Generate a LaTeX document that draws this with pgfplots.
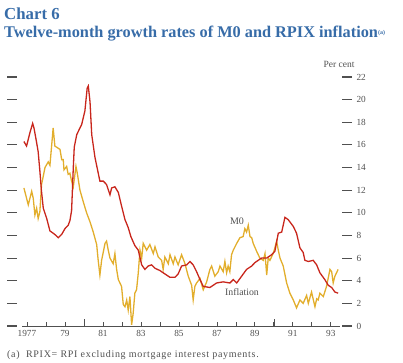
\documentclass[border=0pt]{standalone}
\usepackage{pgfplots}
\pgfplotsset{compat=1.18}
\usepackage{fontspec}
\setmainfont{Liberation Serif}
\definecolor{titleblue}{RGB}{55,108,168}
\definecolor{infred}{RGB}{200,38,28}
\definecolor{mzero}{RGB}{226,174,44}
\definecolor{tickgray}{RGB}{80,80,80}
\begin{document}
\begin{tikzpicture}[x=1bp,y=1bp]
\path[use as bounding box] (0,0) rectangle (403,363);
\node[anchor=base west, inner sep=0, text=titleblue, font=\fontsize{16.8bp}{18bp}\selectfont\bfseries] at (4,344) {Chart 6};
\node[anchor=base west, inner sep=0, text=titleblue, font=\fontsize{16.3bp}{17bp}\selectfont\bfseries] at (4,326) {Twelve-month growth rates of M0 and RPIX inflation{\fontsize{6bp}{7bp}\selectfont\raisebox{3bp}{(a)}}};
% y ticks on both sides
\begin{axis}[
  at={(7bp,37bp)}, anchor=south west,
  width=345bp, height=249bp, scale only axis,
  xmin=1975.95, xmax=1994.11, ymin=0, ymax=22,
  axis line style={draw=none},
  tick align=inside,
  xtick=\empty,
  ytick={0,2,...,22},
  yticklabel pos=right,
  ytick pos=both,
  y tick style={tickgray, line width=1.1bp},
  major tick length=10bp,
  tick label style={font=\fontsize{9.3bp}{10bp}\selectfont, text=tickgray},
  /pgf/number format/assume math mode=true,
  yticklabel style={anchor=west, xshift=1bp},
]
\end{axis}
\begin{axis}[
  at={(7bp,37bp)}, anchor=south west,
  width=345bp, height=249bp, scale only axis,
  xmin=1975.95, xmax=1994.11, ymin=0, ymax=22,
  clip=false,
  axis line style={draw=none},
  tick align=inside,
  xtick pos=bottom,
  ytick=\empty,
  major tick length=4bp,
  xtick={1977,...,1993},
  xticklabels={1977,,79,,81,,83,,85,,87,,89,,91,,93},
  x tick style={tickgray, line width=0.8bp},
  extra x ticks={1980,1990},
  extra x tick labels={},
  extra x tick style={major tick length=7bp},
  tick label style={font=\fontsize{9.3bp}{10bp}\selectfont, text=tickgray},
  /pgf/number format/assume math mode=true,
  xticklabel style={yshift=-1bp},
]
\draw[tickgray, line width=1bp] (axis cs:1976.74,0) -- (axis cs:1993.47,0);
\addplot[mzero, line width=1.3bp] coordinates {
(1976.84,12.2) (1977.07,10.7) (1977.25,11.9) (1977.33,11.3) (1977.42,9.8) (1977.51,10.4)
(1977.59,9.5) (1977.68,10.1) (1977.77,12.5) (1977.95,14.0) (1978.12,14.5) (1978.21,14.2)
(1978.38,17.5) (1978.47,15.9) (1978.65,15.7) (1978.74,15.6) (1978.83,14.7) (1978.91,14.7)
(1978.95,13.8) (1979.09,14.1) (1979.17,13.4) (1979.26,13.5) (1979.35,12.8) (1979.44,12.3)
(1979.58,14.1) (1979.65,13.5) (1979.79,12.0) (1979.96,11.0) (1980.14,10.0) (1980.32,9.2)
(1980.49,8.3) (1980.67,7.2) (1980.75,5.8) (1980.84,4.5) (1980.93,5.8) (1981.11,7.3)
(1981.19,7.5) (1981.28,6.7) (1981.37,6.0) (1981.54,5.5) (1981.63,6.4) (1981.72,5.0)
(1981.81,4.1) (1981.98,3.5) (1982.07,1.9) (1982.16,1.7) (1982.25,2.3) (1982.33,1.4)
(1982.42,2.6) (1982.51,0.1) (1982.59,1.1) (1982.68,2.9) (1982.77,3.2) (1982.86,4.7)
(1982.95,6.7) (1983.04,6.0) (1983.12,7.3) (1983.30,6.7) (1983.47,7.2) (1983.65,6.4)
(1983.74,7.0) (1983.91,6.1) (1984.09,5.8) (1984.17,5.0) (1984.26,6.1) (1984.44,5.5)
(1984.53,6.3) (1984.70,5.5) (1984.79,6.1) (1984.96,5.4) (1985.14,6.3) (1985.32,5.5)
(1985.49,4.4) (1985.67,3.6) (1985.75,2.3) (1985.84,3.5) (1985.93,3.8) (1986.11,4.2)
(1986.28,3.2) (1986.46,3.9) (1986.63,5.0) (1986.72,5.3) (1986.89,4.4) (1987.07,4.8)
(1987.16,5.3) (1987.33,4.8) (1987.42,5.7) (1987.51,4.7) (1987.59,5.3) (1987.68,4.8)
(1987.77,6.3) (1987.86,6.7) (1988.04,7.3) (1988.21,7.8) (1988.38,7.9) (1988.47,8.6)
(1988.56,8.3) (1988.65,8.9) (1988.74,7.9) (1988.83,7.8) (1988.91,7.3) (1989.09,6.6)
(1989.26,6.0) (1989.44,5.8) (1989.53,6.4) (1989.62,4.5) (1989.70,6.0) (1989.79,5.8)
(1989.96,6.4) (1990.05,6.9) (1990.14,7.5) (1990.23,6.7) (1990.32,6.0) (1990.49,5.3)
(1990.67,3.8) (1990.84,2.9) (1991.02,2.3) (1991.19,1.6) (1991.37,2.3) (1991.54,2.0)
(1991.72,2.7) (1991.81,2.0) (1991.98,3.0) (1992.16,1.7) (1992.25,2.4) (1992.33,2.3)
(1992.42,2.9) (1992.60,2.6) (1992.77,3.5) (1992.95,5.0) (1993.04,4.8) (1993.12,3.8)
(1993.21,4.4) (1993.38,5.0)
};
\addplot[infred, line width=1.3bp] coordinates {
(1976.84,16.3) (1976.98,15.9) (1977.16,17.1) (1977.30,17.9) (1977.37,17.5) (1977.51,16.2)
(1977.59,15.4) (1977.68,13.7) (1977.76,12.0) (1977.86,10.4) (1978.04,9.5) (1978.21,8.4)
(1978.38,8.2) (1978.53,8.0) (1978.65,7.8) (1978.83,8.1) (1979.00,8.6) (1979.17,8.9)
(1979.26,9.3) (1979.35,10.2) (1979.44,14.0) (1979.49,15.8) (1979.62,16.9) (1979.79,17.5)
(1979.88,17.8) (1980.05,19.0) (1980.17,21.0) (1980.23,21.2) (1980.32,19.8) (1980.41,16.9)
(1980.58,14.9) (1980.84,12.8) (1981.02,12.8) (1981.19,12.5) (1981.37,11.6) (1981.46,12.2)
(1981.63,12.3) (1981.81,11.8) (1981.98,10.6) (1982.16,9.4) (1982.33,8.7) (1982.47,7.9)
(1982.68,7.1) (1982.86,6.7) (1983.04,5.4) (1983.21,5.0) (1983.38,5.3) (1983.56,5.4)
(1983.74,5.1) (1984.00,4.9) (1984.17,4.7) (1984.35,4.5) (1984.53,4.3) (1984.79,4.3)
(1984.96,4.6) (1985.14,5.3) (1985.41,5.4) (1985.58,5.7) (1985.75,5.4) (1985.93,4.8)
(1986.11,4.1) (1986.28,3.5) (1986.63,3.4) (1986.98,3.8) (1987.33,3.9) (1987.68,3.8)
(1987.86,4.1) (1988.04,3.8) (1988.30,4.4) (1988.56,5.0) (1988.83,5.3) (1989.00,5.6)
(1989.17,5.8) (1989.35,6.0) (1989.62,6.0) (1989.88,6.3) (1990.05,6.6) (1990.23,8.2)
(1990.41,8.3) (1990.58,9.6) (1990.75,9.4) (1991.02,8.8) (1991.19,8.2) (1991.37,6.9)
(1991.54,6.5) (1991.63,5.8) (1991.81,5.7) (1992.07,5.8) (1992.25,5.4) (1992.42,4.7)
(1992.68,4.1) (1992.86,3.6) (1993.04,3.4) (1993.21,3.0) (1993.38,2.9)
};
\end{axis}
\node[font=\fontsize{9.5bp}{10bp}\selectfont, text=tickgray] at (339,299) {Per cent};
\node[font=\fontsize{10bp}{11bp}\selectfont, text=tickgray] at (237,142) {M0};
\node[font=\fontsize{9.8bp}{11bp}\selectfont, text=tickgray] at (242,71) {Inflation};
\node[anchor=base west, inner sep=0, font=\fontsize{10bp}{11bp}\selectfont\addfontfeature{LetterSpace=7}, text=tickgray] at (7,6) {(a)\ \ RPIX= RPI excluding mortgage interest payments.};
\end{tikzpicture}
\end{document}
